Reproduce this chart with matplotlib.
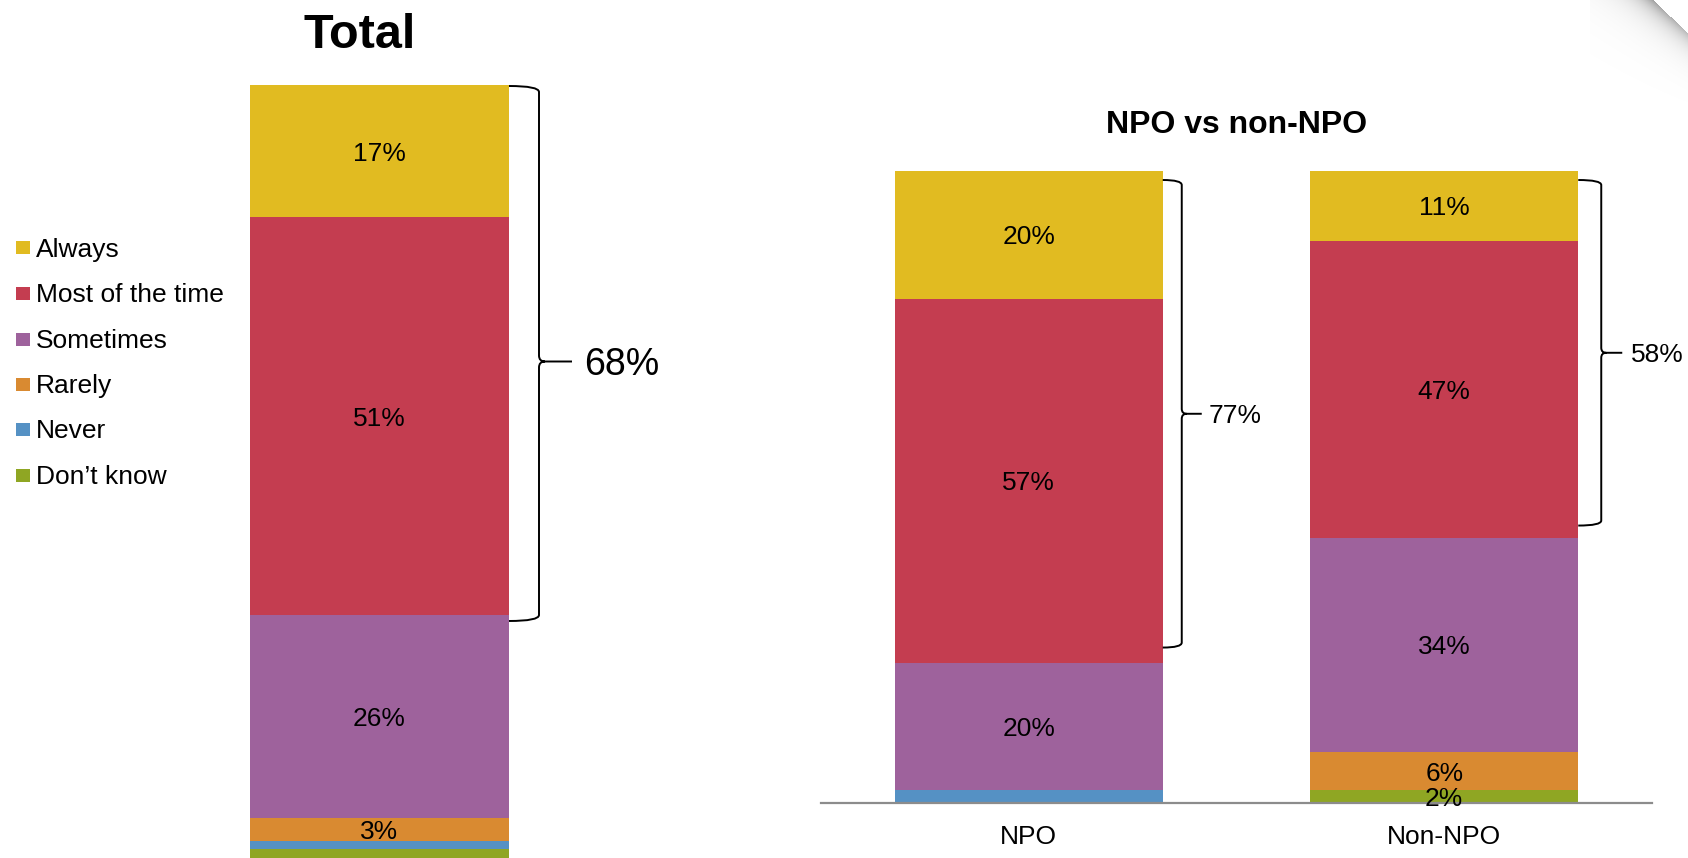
import numpy as np
import matplotlib
matplotlib.use("Agg")
import matplotlib.pyplot as plt
from matplotlib.path import Path
from matplotlib.patches import PathPatch, Rectangle
from matplotlib.transforms import IdentityTransform

plt.rcParams["font.family"] = ["Liberation Sans", "DejaVu Sans"]

# answer categories, top of the stack first
categories = ["Always", "Most of the time", "Sometimes", "Rarely", "Never", "Don\u2019t know"]
colors = ["#E1BB21", "#C43D50", "#9E629C", "#D98A31", "#5591C4", "#8FA623"]

total = [17, 51, 26, 3, 1, 2]
npo = [20, 57, 20, 0, 2, 0]
non_npo = [11, 47, 34, 6, 0, 2]

group_names = ["NPO", "Non-NPO"]

# which segments carry a value label
total_show = [True, True, True, True, False, False]
npo_show = [True, True, True, False, False, False]
non_npo_show = [True, True, True, True, False, True]

W, H = 1688, 858
fig = plt.figure(figsize=(W / 100, H / 100), dpi=100)


def px_axes(left, top, right, bottom):
    return fig.add_axes([left / W, 1 - bottom / H, (right - left) / W, (bottom - top) / H])


def stacked_bar(ax, x, values, show, width):
    vals = np.array(values, dtype=float)
    heights = vals / vals.sum() * 100  # 100% stacked
    bottom = 0.0
    # draw from the bottom category up
    for i in reversed(range(len(vals))):
        h = heights[i]
        if h > 0:
            ax.bar(x, h, width=width, bottom=bottom, color=colors[i], linewidth=0)
            if show[i]:
                ax.text(x, bottom + h / 2, f"{values[i]}%", ha="center", va="center_baseline",
                        fontsize=19, color="black")
        bottom += h
    return heights


def brace(ax, x_edge, y_top, y_bot, hook_dx, tip_dx, text_dx, pad_top, pad_bot,
          label, fontsize, r=6, mid_shift=0):
    # curly brace drawn in pixel space to the right of a bar
    # pads are in pixels, positive = further down
    x0, yt = ax.transData.transform((x_edge, y_top))
    _, yb = ax.transData.transform((x_edge, y_bot))
    yt -= pad_top
    yb -= pad_bot
    xv = x0 + hook_dx
    xt = x0 + tip_dx
    ym = (yt + yb) / 2 - mid_shift
    verts = [(x0, yt), (xv, yt), (xv, yt - r),
             (xv, ym + r), (xv, ym), (xv + r, ym),
             (xt, ym),
             (xv + r, ym), (xv, ym), (xv, ym - r),
             (xv, yb + r), (xv, yb), (x0, yb)]
    codes = [Path.MOVETO, Path.CURVE3, Path.CURVE3,
             Path.LINETO, Path.CURVE3, Path.CURVE3,
             Path.LINETO,
             Path.MOVETO, Path.CURVE3, Path.CURVE3,
             Path.LINETO, Path.CURVE3, Path.CURVE3]
    fig.add_artist(PathPatch(Path(verts, codes), transform=IdentityTransform(),
                             fill=False, edgecolor="black", linewidth=1.4))
    fig.text((xt + text_dx) / W, ym / H, label, ha="left", va="center_baseline",
             fontsize=fontsize, color="black")


# ---- Total ----
ax_t = px_axes(250, 85, 509, 864.4)
ax_t.set_xlim(-0.5, 0.5)
ax_t.set_ylim(0, 100)
ax_t.axis("off")
h_t = stacked_bar(ax_t, 0, total, total_show, 1.0)

fig.text(359.5 / W, 1 - 48 / H, "Total", ha="center", va="baseline",
         fontsize=35, fontweight="bold")

# ---- NPO vs non-NPO ----
ax_r = px_axes(821, 171, 1652, 803)
ax_r.set_xlim(-0.5, 1.5)
ax_r.set_ylim(0, 100)
bar_w = 0.645
h_n = stacked_bar(ax_r, 0, npo, npo_show, bar_w)
h_nn = stacked_bar(ax_r, 1, non_npo, non_npo_show, bar_w)

for side in ["top", "left", "right"]:
    ax_r.spines[side].set_visible(False)
ax_r.spines["bottom"].set_color("#8C8C8C")
ax_r.spines["bottom"].set_linewidth(1.6)
ax_r.set_yticks([])
ax_r.set_xticks([0, 1])
ax_r.set_xticklabels(group_names, fontsize=19)
ax_r.tick_params(axis="x", length=0, pad=16)
ax_r.set_facecolor("none")

fig.text(1237 / W, 1 - 133 / H, "NPO vs non-NPO", ha="center", va="baseline",
         fontsize=23, fontweight="bold")

fig.canvas.draw()

# braces over "Always" + "Most of the time"
brace(ax_t, 0.5, 100, 100 - h_t[0] - h_t[1], 30, 63, 12, 1, 6,
      f"{total[0] + total[1]}%", 27, r=6, mid_shift=8)
brace(ax_r, bar_w / 2, 100, 100 - h_n[0] - h_n[1], 19, 39, 7, 9, -15,
      f"{npo[0] + npo[1]}%", 19, r=5)
brace(ax_r, 1 + bar_w / 2, 100, 100 - h_nn[0] - h_nn[1], 23, 44, 9, 9, -12,
      f"{non_npo[0] + non_npo[1]}%", 19, r=5)

# ---- legend ----
legend_rows = [247, 293, 339, 384, 429, 475]
for cat, col, y in zip(categories, colors, legend_rows):
    fig.add_artist(Rectangle((16 / W, 1 - (y + 7) / H), 14 / W, 13 / H,
                             transform=fig.transFigure, facecolor=col, edgecolor="none"))
    fig.text(36 / W, 1 - y / H, cat, ha="left", va="center_baseline", fontsize=19)

# ---- page-curl shadow in the top right corner ----
cx0, cx1, cy0, cy1 = 1590, 1688, 0, 120
xx, yy = np.meshgrid(np.arange(cx0, cx1) + 0.5, np.arange(cy0, cy1) + 0.5)
nx, ny = -33 / 48.1, 35 / 48.1
d = (xx - 1653) * nx + (yy - 0) * ny
alpha = np.where(d > 0, 0.30 * np.exp(-d / 10) + 0.07 * np.exp(-d / 35), 0.0)
alpha *= np.clip(1 - yy / 130, 0, 1)
shade = np.zeros((cy1 - cy0, cx1 - cx0, 4))
shade[..., 3] = alpha
ax_c = fig.add_axes([cx0 / W, 1 - cy1 / H, (cx1 - cx0) / W, (cy1 - cy0) / H])
ax_c.imshow(shade, aspect="auto", interpolation="bilinear")
ax_c.axis("off")

fig.savefig("out.png", dpi=100)
